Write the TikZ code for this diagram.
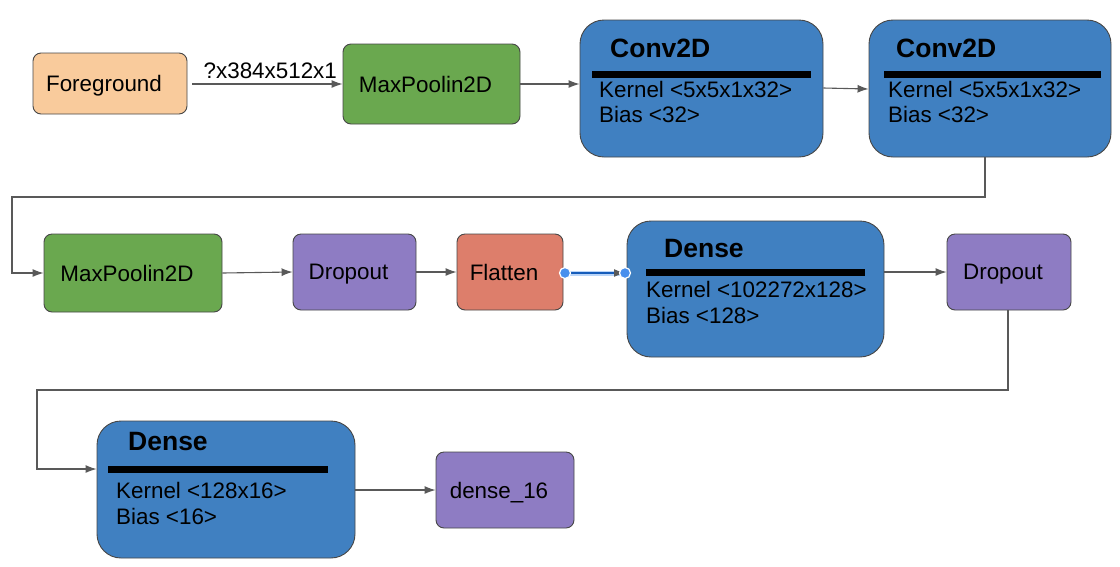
\documentclass[tikz,border=0pt]{standalone}
\usepackage{fontspec}
\setmainfont{Liberation Sans}
\usetikzlibrary{arrows.meta}
\definecolor{peach}{HTML}{F9CB9C}
\definecolor{grn}{HTML}{6AA84F}
\definecolor{blu}{RGB}{64,128,193}
\definecolor{purp}{HTML}{8E7CC3}
\definecolor{redd}{HTML}{DD7E6B}
\definecolor{edge}{HTML}{595959}
\definecolor{selblue}{HTML}{1A73E8}
\tikzset{
  box/.style={draw=edge!80!black, line width=0.9pt, rounded corners=8pt, inner sep=0pt,
    text depth=0pt, font=\fontsize{22.4}{26}\selectfont, execute at end node={\hspace{12pt}}},
  bigbox/.style={draw=edge!80!black, line width=0.9pt, rounded corners=24pt, fill=blu, inner sep=0pt},
  ttl/.style={anchor=base west, inner sep=0pt, font=\fontsize{26.5}{30}\selectfont\bfseries},
  txt/.style={anchor=base west, inner sep=0pt, font=\fontsize{22.4}{26}\selectfont},
  bar/.style={line width=7pt, black},
  conn/.style={draw=edge, line width=1.1pt, -{Latex[length=11pt,width=8pt]}},
}
\begin{document}
\begin{tikzpicture}[x=1pt,y=-1pt]
\path[use as bounding box, fill=white] (0,0) rectangle (1120,566);
% row 1
\node[box, fill=peach, minimum width=154pt, minimum height=61pt] (fg) at (110,83.5) {Foreground};
\node[box, fill=grn, minimum width=177pt, minimum height=80pt] (mp1) at (431.5,84) {MaxPoolin2D};
\node[bigbox, minimum width=243pt, minimum height=137pt] (c1) at (701.5,88.5) {};
\node[bigbox, minimum width=242pt, minimum height=137pt] (c2) at (990,88.5) {};
\node[ttl] (c1t) at (610,57) {Conv2D};
\draw[bar] (592,74) -- (811,74);
\node[txt] (c1k) at (599,97) {Kernel <5x5x1x32>};
\node[txt] (c1b) at (599,122) {Bias <32>};
\node[ttl] (c2t) at (896,57) {Conv2D};
\draw[bar] (884,74) -- (1101,74);
\node[txt] (c2k) at (888,97) {Kernel <5x5x1x32>};
\node[txt] (c2b) at (888,122) {Bias <32>};
% row 2
\node[box, fill=grn, minimum width=178pt, minimum height=78pt] (mp2) at (133,273) {MaxPoolin2D};
\node[box, fill=purp, minimum width=123pt, minimum height=76pt] (do1) at (354.5,272) {Dropout};
\node[box, fill=redd, minimum width=106pt, minimum height=76pt] (fl) at (510,272) {Flatten};
\node[bigbox, minimum width=257pt, minimum height=136pt] (d1) at (755.5,289) {};
\node[ttl] (d1t) at (664,257) {Dense};
\draw[bar] (646,272) -- (865,272);
\node[txt] (d1k) at (646,297) {Kernel <102272x128>};
\node[txt] (d1b) at (646,323) {Bias <128>};
\node[box, fill=purp, minimum width=124pt, minimum height=76pt] (do2) at (1009,272) {Dropout};
% row 3
\node[bigbox, minimum width=258pt, minimum height=137pt] (d2) at (226,489.5) {};
\node[ttl] (d2t) at (128,450) {Dense};
\draw[bar] (108,469) -- (328,469);
\node[txt] (d2k) at (116,498) {Kernel <128x16>};
\node[txt] (d2b) at (116,524) {Bias <16>};
\node[box, fill=purp, minimum width=138pt, minimum height=76pt] (out) at (505,490) {dense\_16};
% connectors
\coordinate (p1) at (192,84);
\draw[conn] (p1) -- node[above=5pt, xshift=3pt, inner sep=0pt, font=\fontsize{22.4}{26}\selectfont] (lbl) {?x384x512x1} (mp1.west);
\draw[conn] (mp1.east) -- (c1.west |- mp1.east);
\draw[conn] (c1.east |- 0,88) -- (c2.west |- 0,89);
\coordinate (k1) at (985,197);
\coordinate (k2) at (12,197);
\draw[conn] (c2.south -| k1) -- (k1) -- (k2) -- (k2 |- mp2.west) -- (mp2.west);
\draw[conn] (mp2.east) -- (do1.west);
\draw[conn] (do1.east) -- (fl.west);
\coordinate (fa) at (565,273);
\coordinate (fb) at (625,273);
\draw[selblue!30, line width=5pt] (fa) -- (fb);
\draw[draw=selblue!80!black, line width=1.6pt, -{Latex[length=11pt,width=8pt,fill=edge,color=edge]}] (fa) -- (fb);
\fill[selblue!80, draw=white, line width=1.2pt] (fa) circle (5.5pt);
\fill[selblue!80, draw=white, line width=1.2pt] (fb) circle (5.5pt);
\draw[conn] (d1.east |- do2.west) -- (do2.west);
\coordinate (m1) at (1008,390);
\coordinate (m2) at (37,390);
\draw[conn] (do2.south -| m1) -- (m1) -- (m2) -- (m2 |- 0,469) -- (d2.west |- 0,469);
\draw[conn] (d2.east |- out.west) -- (out.west);
\end{tikzpicture}
\end{document}
